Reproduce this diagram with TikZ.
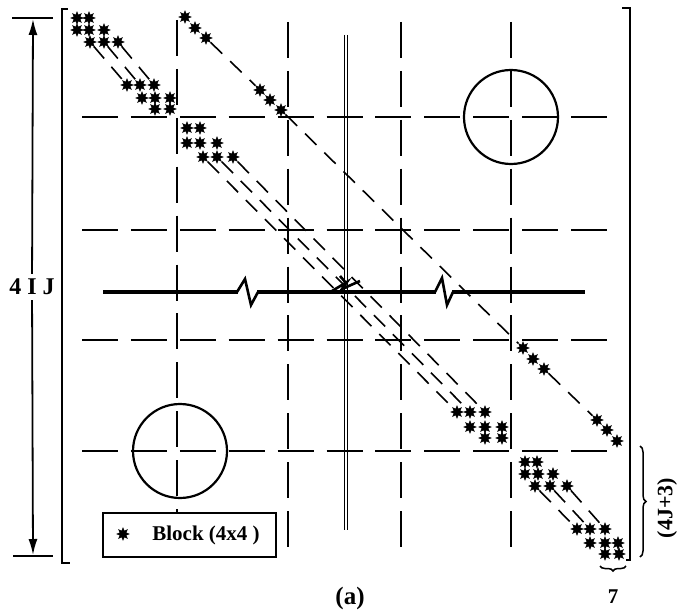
\documentclass[tikz,border=0pt]{standalone}
\usepackage{fontspec}
\setmainfont{Liberation Serif}
\usetikzlibrary{arrows.meta,shapes.geometric,decorations.pathreplacing}
\begin{document}
\begin{tikzpicture}[x=1pt,y=-1pt,
  gridline/.style={line width=1.8pt, dash pattern=on 36pt off 12.9pt},
  dd/.style={line width=1.6pt, dash pattern=on 16pt off 11pt},
  brk/.style={line width=2.6pt, line join=miter},
  st/.style={star, star points=8, star point ratio=1.9, fill=black, draw=black, line width=0.6pt, minimum size=12pt, inner sep=0pt},
  lbl/.style={font=\fontsize{21}{24}\selectfont\bfseries, inner sep=0pt},
  bracketline/.style={line width=2pt},
]
\useasboundingbox (0,0) rectangle (677,615);

% grid of dashed lines
\foreach \yy in {117,230,340,451} \draw[gridline] (82,\yy) -- (607,\yy);
\draw[gridline] (177,20) -- (177,545);
\draw[gridline] (288,22) -- (288,547);
\draw[gridline] (401,22) -- (401,547);
\draw[gridline] (511,22) -- (511,547);
\draw[line width=0.7pt] (344,35) -- (344,530) (347,35) -- (347,530);

% circles
\node[circle, draw, line width=2.2pt, minimum size=94pt, inner sep=0pt] (circTR) at (511,117) {};
\node[circle, draw, line width=2.2pt, minimum size=94pt, inner sep=0pt] (circBL) at (180,451) {};

% thick break line
\draw[line width=3.8pt] (103,292) -- (238,292);
\draw[brk] (237,292) -- (245,279) -- (251,305) -- (258,292);
\draw[line width=3.8pt] (257,292) -- (436,292);
\draw[brk] (435,292) -- (442,278) -- (447,305) -- (453,292);
\draw[line width=3.8pt] (452,292) -- (585,292);
\draw[brk] (332,291) -- (347,282) -- (342,289) -- (360,281);
\draw[brk] (340,276) -- (346,283);

% stars
\foreach \n/\x/\y in {
  a11/77/18, a12/89/18,
  a21/77/30, a22/89/30, a23/104/30,
  a31/90/42, a32/104/42, a33/118/42,
  a41/127/85, a42/140/85, a43/154/85,
  a51/142/98, a52/155/98, a53/170/98,
  a61/155/109, a62/170/109,
  u1/185/17, u2/195/28, u3/206/38, u4/260/90, u5/270/100, u6/281/110,
  b11/187/128, b12/200/128,
  b21/187/143, b22/200/143, b23/217/143,
  b31/203/157, b32/217/157, b33/233/157,
  c41/457/412, c42/470/412, c43/485/412,
  c51/470/427, c52/485/427, c53/502/427,
  c61/485/438, c62/502/438,
  v1/523/348, v2/533/359, v3/544/369, v4/597/420, v5/607/430, v6/617/441,
  d11/525/462, d12/537/462,
  d21/525/474, d22/538/474, d23/553/474,
  d31/535/486, d32/550/486, d33/567/486,
  d41/577/529, d42/590/529, d43/605/529,
  d51/590/543, d52/605/543, d53/618/543,
  d61/605/554, d62/619/554}
  \node[st] (\n) at (\x,\y) {};

% dashed diagonals
\draw[dd] (a31) -- (a41);
\draw[dd] (a32) -- (a42);
\draw[dd] (a33) -- (a43);
\draw[dd] (u3) -- (u4);
\draw[dd] (b31) -- (c41);
\draw[dd] (b32) -- (c42);
\draw[dd] (b33) -- (c43);
\draw[dd] (u6) -- (v1);
\draw[dd] (v3) -- (v4);
\draw[dd] (d31) -- (d41);
\draw[dd] (d32) -- (d42);
\draw[dd] (d33) -- (d43);

% matrix brackets
\draw[bracketline] (68,9) -- (62,9) -- (62,563) -- (70,563);
\draw[bracketline] (622,8) -- (630,8) -- (630,560) -- (626,560);

% left dimension
\draw[line width=2pt] (12,18) -- (53,18) (13,556) -- (53,556);
\coordinate (dimT) at (33,19);
\coordinate (dimB) at (33,555);
\node[lbl, font=\fontsize{24}{26}\selectfont\bfseries, inner sep=5pt] (dimL) at (32,287) {4 I J};
\draw[line width=1.8pt, -{Latex[length=16pt,width=9pt]}] (dimL) -- (dimT);
\draw[line width=1.8pt, -{Latex[length=16pt,width=9pt]}] (dimL) -- (dimB);

% legend
\node[draw, line width=1.2pt, fill=white, minimum width=173pt, minimum height=44pt, inner sep=0pt] (legend) at (189.5,535) {};
\node[st] (legstar) at (123,534) {};
\node[lbl] (legtext) at (206,535) {Block (4x4 )};

% braces and labels
\draw[line width=1.5pt, decorate, decoration={brace, amplitude=6pt}] (640,446) -- (640,557);
\node[lbl, rotate=90, font=\fontsize{22}{24}\selectfont\bfseries] (bandL) at (667,508) {(4J+3)};
\draw[line width=1.5pt, decorate, decoration={brace, amplitude=5pt}] (626,566) -- (600,566);
\node[lbl, font=\fontsize{21}{24}\selectfont\bfseries] (sevenL) at (613,597) {7};
\node[lbl, font=\fontsize{25}{27}\selectfont\bfseries] (capL) at (350,598) {(a)};
\end{tikzpicture}
\end{document}
